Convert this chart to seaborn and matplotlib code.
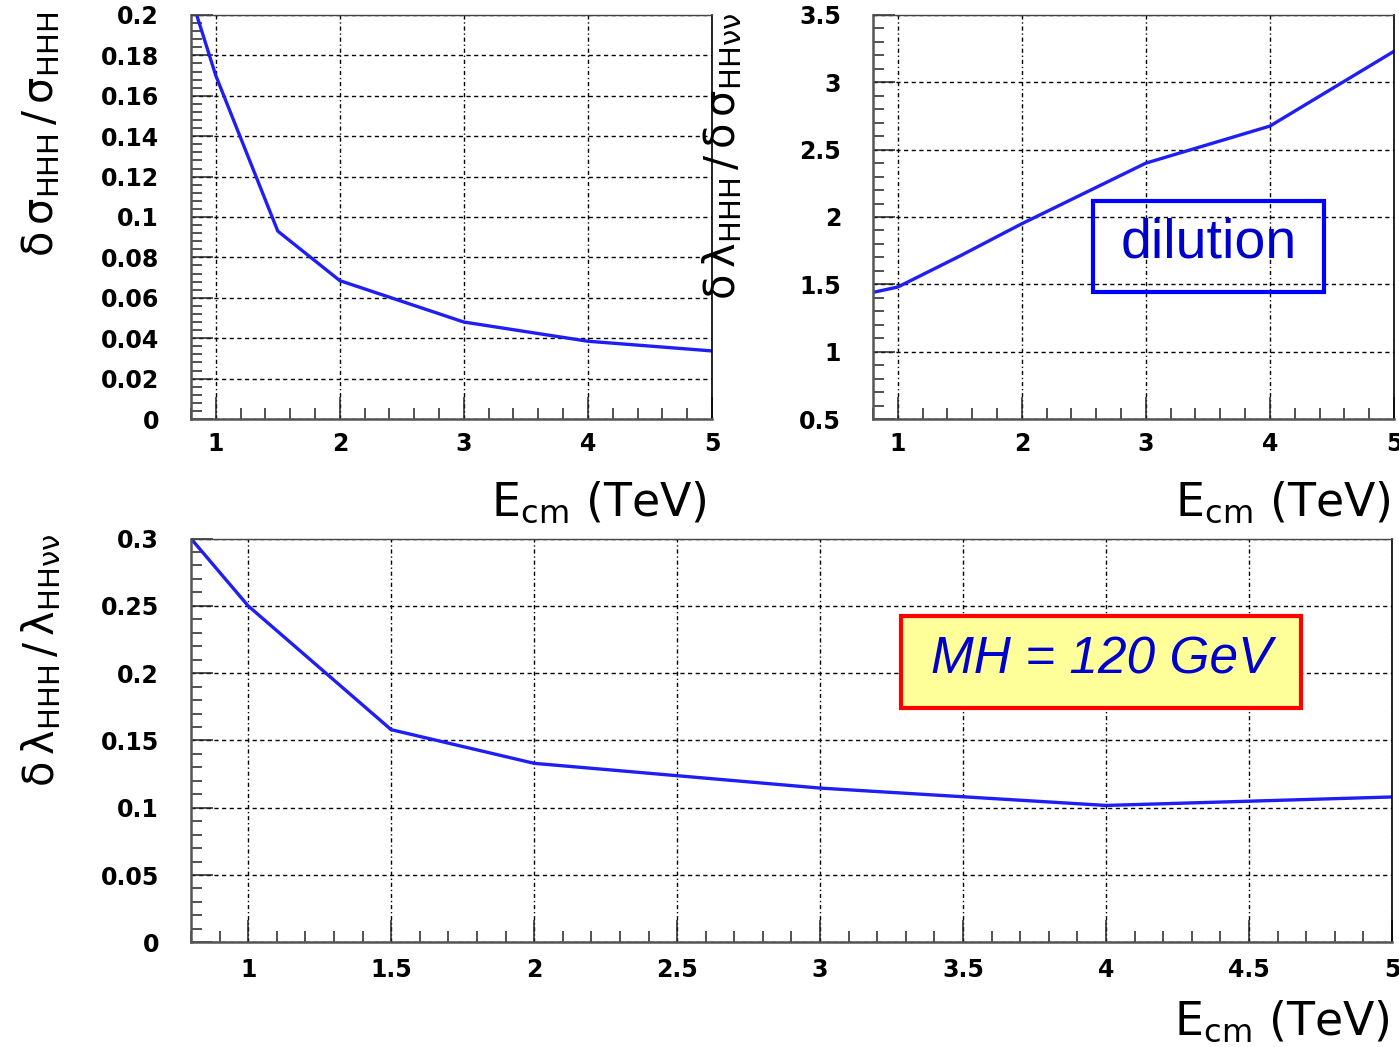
import numpy as np
import pandas as pd
import matplotlib
matplotlib.use("Agg")
import matplotlib.pyplot as plt
from matplotlib.ticker import MultipleLocator, FuncFormatter
from matplotlib.patches import Rectangle
import seaborn as sns

# centre-of-mass energy (TeV)
energy = [0.8, 1.0, 1.5, 2.0, 3.0, 4.0, 5.0]
# relative error on the triple-Higgs cross section
sigma_rel_err = [0.209, 0.170, 0.093, 0.0685, 0.048, 0.0385, 0.0337]
# dilution factor  d(lambda)/d(sigma)
dilution = [1.44, 1.48, 1.71, 1.95, 2.40, 2.675, 3.23]
# relative error on the trilinear Higgs self-coupling
lambda_rel_err = [0.300, 0.250, 0.158, 0.133, 0.1146, 0.1017, 0.108]

sns.set_style("white")
plt.rcParams["font.family"] = ["DejaVu Sans"]
plt.rcParams["mathtext.fontset"] = "dejavusans"
plt.rcParams["mathtext.default"] = "regular"
plt.rcParams["text.color"] = "black"
plt.rcParams["axes.labelcolor"] = "black"

LINE_BLUE = "#1e1ef5"
TEXT_BLUE = "#0000cc"

df = pd.DataFrame({"E": energy, "sigma": sigma_rel_err,
                   "dil": dilution, "lam": lambda_rel_err})

fig = plt.figure(figsize=(13.99, 10.47), dpi=100)
ax1 = fig.add_axes([0.1365, 0.5998, 0.3724, 0.3859])
ax2 = fig.add_axes([0.6240, 0.5998, 0.3724, 0.3859])
ax3 = fig.add_axes([0.1365, 0.1000, 0.8585, 0.3856])

fmt = FuncFormatter(lambda v, p: f"{v:g}")


def style(ax, xmaj, xmin, ymaj, ymin, xpad=9):
    ax.xaxis.set_major_locator(MultipleLocator(xmaj))
    ax.xaxis.set_minor_locator(MultipleLocator(xmin))
    ax.yaxis.set_major_locator(MultipleLocator(ymaj))
    ax.yaxis.set_minor_locator(MultipleLocator(ymin))
    ax.xaxis.set_major_formatter(fmt)
    ax.yaxis.set_major_formatter(fmt)
    ax.tick_params(which="both", direction="in", colors="#222222",
                   width=1.1, labelsize=17, labelcolor="black",
                   bottom=True, left=True, top=False, right=False)
    ax.tick_params(axis="y", which="major", length=16, pad=23)
    ax.tick_params(axis="y", which="minor", length=8)
    ax.tick_params(axis="x", which="major", length=16, pad=xpad)
    ax.tick_params(axis="x", which="minor", length=8)
    ax.grid(True, which="major", axis="y", color="black", lw=1.0,
            ls=(0, (3, 2.5)))
    ax.grid(True, which="major", axis="x", color="black", lw=1.0,
            ls=(0, (3, 2, 1, 2)))
    for s in ("left", "bottom"):
        ax.spines[s].set_color("#555555")
        ax.spines[s].set_linewidth(1.8)
    ax.spines["top"].set_color("#444444")
    ax.spines["top"].set_linewidth(1.0)
    ax.spines["top"].set_linestyle((0, (2, 1)))
    ax.spines["right"].set_color("black")
    ax.spines["right"].set_linewidth(1.2)
    for lbl in ax.get_xticklabels() + ax.get_yticklabels():
        lbl.set_fontweight("bold")


xlabel = r"E$_{\mathrm{cm}}$ (TeV)"

# cross-section error
sns.lineplot(data=df, x="E", y="sigma", ax=ax1, color=LINE_BLUE, lw=2.4,
             sort=False)
ax1.set_xlim(0.8, 5)
ax1.set_ylim(0, 0.2)
style(ax1, 1, 0.2, 0.02, 0.004)
ax1.set_xlabel(xlabel, loc="right", fontsize=33)
ax1.xaxis.set_label_coords(0.99, -0.151)
ax1.set_ylabel(r"$\delta\,\sigma_{\mathrm{HHH}}\,/\,\sigma_{\mathrm{HHH}}$",
               fontsize=30, ha="center", va="center")
ax1.yaxis.set_label_coords(-0.288, 0.705)

# dilution factor
sns.lineplot(data=df, x="E", y="dil", ax=ax2, color=LINE_BLUE, lw=2.4,
             sort=False)
ax2.set_xlim(0.8, 5)
ax2.set_ylim(0.5, 3.5)
style(ax2, 1, 0.2, 0.5, 0.1)
ax2.set_xlabel(xlabel, loc="right", fontsize=33)
ax2.xaxis.set_label_coords(0.993, -0.151)
ax2.set_ylabel(r"$\delta\,\lambda_{\mathrm{HHH}}\,/\,\delta\,\sigma_{\mathrm{HH\nu\nu}}$",
               fontsize=30, ha="center", va="center")
ax2.yaxis.set_label_coords(-0.290, 0.651)
ax2.add_patch(Rectangle((0.422, 0.314), 0.444, 0.226, transform=ax2.transAxes,
                        fill=False, edgecolor="#0000ff", lw=3.0, zorder=5))
ax2.text(0.644, 0.435, "dilution", transform=ax2.transAxes, ha="center",
         va="center", fontsize=40,
         family=["Liberation Sans", "DejaVu Sans"], color=TEXT_BLUE, zorder=6)

# coupling error
sns.lineplot(data=df, x="E", y="lam", ax=ax3, color=LINE_BLUE, lw=2.4,
             sort=False)
ax3.set_xlim(0.8, 5)
ax3.set_ylim(0, 0.3)
style(ax3, 0.5, 0.1, 0.05, 0.01, xpad=11)
ax3.set_xlabel(xlabel, loc="right", fontsize=33)
ax3.xaxis.set_label_coords(0.998, -0.139)
ax3.set_ylabel(r"$\delta\,\lambda_{\mathrm{HHH}}\,/\,\lambda_{\mathrm{HH\nu\nu}}$",
               fontsize=30, ha="center", va="center")
ax3.yaxis.set_label_coords(-0.1249, 0.700)
ax3.add_patch(Rectangle((0.591, 0.581), 0.333, 0.226, transform=ax3.transAxes,
                        facecolor="#ffff99", edgecolor="#ff0000", lw=3.0,
                        zorder=5))
ax3.text(0.7586, 0.70, "MH = 120 GeV", transform=ax3.transAxes, ha="center",
         va="center", fontsize=37, fontstyle="italic",
         family=["Liberation Sans", "DejaVu Sans"], color=TEXT_BLUE, zorder=6)

fig.savefig("out.png", dpi=100, facecolor="white")
